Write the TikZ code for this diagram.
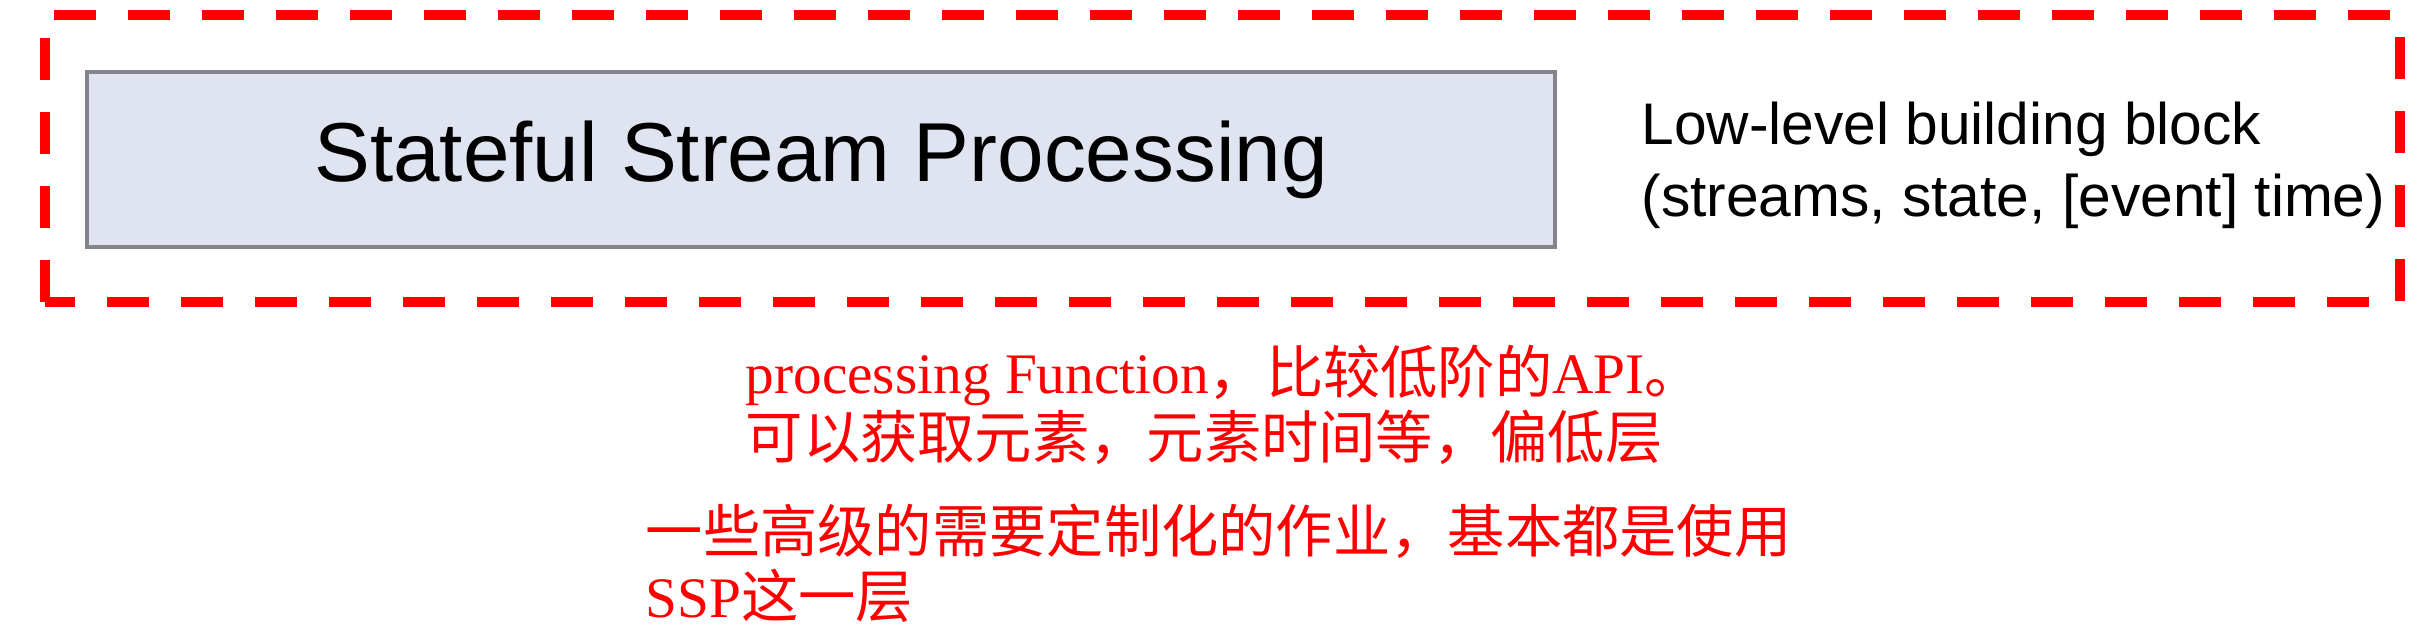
\documentclass[tikz,border=0pt]{standalone}
\usepackage{fontspec}
\setmainfont{Liberation Sans}
\newfontfamily\cjk{Noto Sans CJK SC}
\newfontfamily\latin{Liberation Serif}
\usetikzlibrary{positioning}
\definecolor{sspred}{RGB}{255,0,0}
\definecolor{sspgray}{RGB}{132,132,140}
\definecolor{ssplight}{RGB}{223,228,240}
\tikzset{
  layerbox/.style={draw=sspgray, line width=1pt, fill=ssplight,
    minimum width=14.68cm, minimum height=1.75cm, inner sep=0pt,
    font=\fontsize{23.8}{28}\selectfont},
  layernote/.style={align=left, inner sep=0pt,
    font=\fontsize{16.7}{20.5}\selectfont},
  remark/.style={align=left, text=sspred, inner sep=0pt,
    font=\fontsize{16.3}{18.5}\selectfont},
  highlight/.style={draw=sspred, line width=0.1cm, dash pattern=on 0.42cm off 0.32cm}
}

\begin{document}
\begin{tikzpicture}
  \useasboundingbox (0,0) rectangle (24.34,6.30);
  \node[layerbox] (ssp) at (8.21,4.705) {Stateful Stream Processing};
  \node[layernote, right=0.84cm of ssp, yshift=-0.06cm] (low) {Low-level building block\\(streams, state, [event] time)};
  \draw[highlight] (0.45,3.28) rectangle (24.00,6.15);
  \node[remark, anchor=west] (api) at (7.45,2.25)
    {{\latin processing Function}{\cjk ，比较低阶的}{\latin API}{\cjk 。}\\{\cjk 可以获取元素，元素时间等，偏低层}};
  \node[remark, anchor=west] (custom) at (6.45,0.67)
    {{\cjk 一些高级的需要定制化的作业，基本都是使用}\\{\latin SSP}{\cjk 这一层}};
\end{tikzpicture}
\end{document}
